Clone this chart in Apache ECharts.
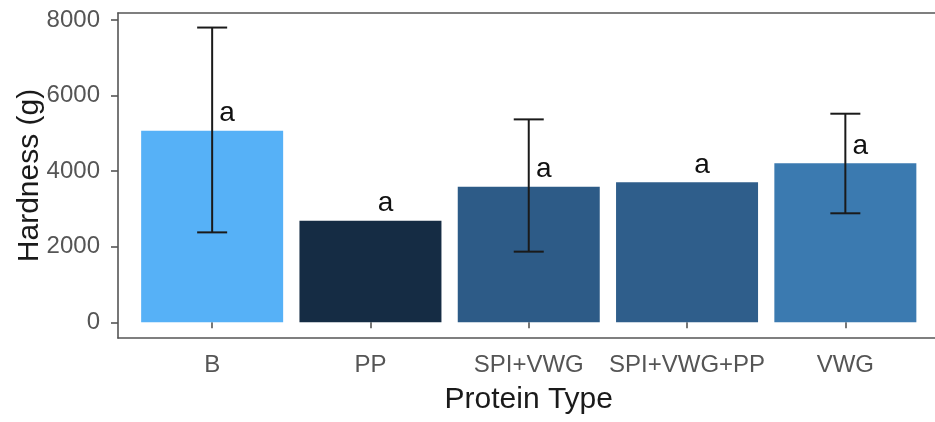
<!DOCTYPE html>
<html>
<head>
<meta charset="utf-8">
<script src="https://cdn.jsdelivr.net/npm/echarts@6/dist/echarts.min.js"></script>
<style>
  html, body { margin: 0; padding: 0; background: #fff; }
  #chart { width: 935px; height: 422px; }
</style>
</head>
<body>
<div id="chart"></div>
<script>
// values
const categories = ['B', 'PP', 'SPI+VWG', 'SPI+VWG+PP', 'VWG'];
const hardness = [5070, 2690, 3590, 3705, 4210];
const errLow = [2380, null, 1870, null, 2885];
const errHigh = [7800, null, 5370, null, 5520];
const letters = ['a', 'a', 'a', 'a', 'a'];
const barColors = ['#56B1F7', '#152C44', '#2D5B87', '#2F5E8B', '#3B7AB0'];
const yTicks = [0, 2000, 4000, 6000, 8000];

const font = "'Liberation Sans', Arial, sans-serif";
const frameLine = { color: '#555', width: 1.6 };

const chart = echarts.init(document.getElementById('chart'));

const errData = [];
for (let i = 0; i < categories.length; i++) {
  if (errLow[i] != null) errData.push([i, errLow[i], errHigh[i]]);
}

const option = {
  backgroundColor: '#fff',
  animation: false,
  grid: [
    // panel frame: left, top and bottom lines (right edge is cropped off in the reference)
    { left: 118, top: 13, width: 823, height: 325, outerBoundsMode: 'none', containLabel: false },
    // plotting area for bars
    { left: 133, top: 13, width: 791.5, height: 325, outerBoundsMode: 'none', containLabel: false }
  ],
  xAxis: [
    { gridIndex: 0, type: 'value', position: 'bottom', axisLine: { show: true, onZero: false, lineStyle: frameLine },
      axisTick: { show: false }, axisLabel: { show: false }, splitLine: { show: false } },
    { gridIndex: 0, type: 'value', position: 'top', axisLine: { show: true, onZero: false, lineStyle: frameLine },
      axisTick: { show: false }, axisLabel: { show: false }, splitLine: { show: false } },
    {
      gridIndex: 1,
      type: 'category',
      data: categories,
      axisLine: { show: false },
      axisTick: { show: true, alignWithLabel: true, length: 6, lineStyle: frameLine },
      axisLabel: { color: '#555', fontSize: 24, fontFamily: font, margin: 15, interval: 0, hideOverlap: false },
      name: 'Protein Type',
      nameLocation: 'middle',
      nameGap: 47,
      nameMoveOverlap: false,
      nameTextStyle: { color: '#1a1a1a', fontSize: 30, fontFamily: font }
    }
  ],
  yAxis: [
    { gridIndex: 0, type: 'value', position: 'left', axisLine: { show: true, onZero: false, lineStyle: frameLine },
      axisTick: { show: false }, axisLabel: { show: false }, splitLine: { show: false } },
    {
      gridIndex: 1,
      type: 'value',
      min: -415,
      max: 8185,
      offset: 15,
      axisLine: { show: false },
      splitLine: { show: false },
      axisTick: { show: true, length: 7, customValues: yTicks, lineStyle: frameLine },
      axisLabel: { color: '#555', fontSize: 24, fontFamily: font, margin: 18, customValues: yTicks,
        formatter: v => String(v) },
      name: 'Hardness (g)',
      nameLocation: 'middle',
      nameGap: 73,
      nameRotate: 90,
      nameMoveOverlap: false,
      nameTextStyle: { color: '#1a1a1a', fontSize: 30, fontFamily: font }
    }
  ],
  series: [
    {
      type: 'bar',
      xAxisIndex: 2,
      yAxisIndex: 1,
      barWidth: 142,
      data: hardness.map((v, i) => ({ value: v, itemStyle: { color: barColors[i] } })),
      label: {
        show: true,
        position: 'top',
        distance: 3,
        offset: [15, 0],
        color: '#111',
        fontSize: 28,
        fontFamily: font,
        formatter: p => letters[p.dataIndex]
      },
      z: 2
    },
    {
      type: 'custom',
      xAxisIndex: 2,
      yAxisIndex: 1,
      data: errData,
      z: 3,
      renderItem(params, api) {
        const x = api.value(0);
        const top = api.coord([x, api.value(2)]);
        const bot = api.coord([x, api.value(1)]);
        const half = 15;
        const style = { stroke: '#1a1a1a', lineWidth: 2 };
        return {
          type: 'group',
          children: [
            { type: 'line', shape: { x1: top[0], y1: top[1], x2: bot[0], y2: bot[1] }, style },
            { type: 'line', shape: { x1: top[0] - half, y1: top[1], x2: top[0] + half, y2: top[1] }, style },
            { type: 'line', shape: { x1: bot[0] - half, y1: bot[1], x2: bot[0] + half, y2: bot[1] }, style }
          ]
        };
      }
    }
  ]
};

chart.setOption(option);
</script>
</body>
</html>
